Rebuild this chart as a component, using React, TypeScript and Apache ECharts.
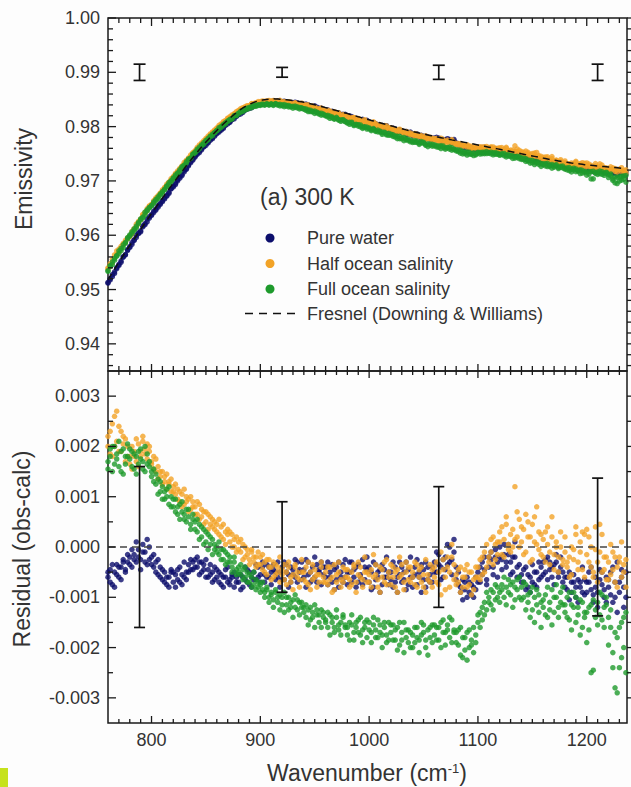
import React, { useEffect, useRef } from "react";
import * as echarts from "echarts";

// ---------------- data ----------------
const wavenumbers = [
  760, 762, 764, 766, 768, 770, 772, 774, 776, 778,
  780, 782, 784, 786, 788, 790, 792, 794, 796, 798,
  800, 802, 804, 806, 808, 810, 812, 814, 816, 818,
  820, 822, 824, 826, 828, 830, 832, 834, 836, 838,
  840, 842, 844, 846, 848, 850, 852, 854, 856, 858,
  860, 862, 864, 866, 868, 870, 872, 874, 876, 878,
  880, 882, 884, 886, 888, 890, 892, 894, 896, 898,
  900, 902, 904, 906, 908, 910, 912, 914, 916, 918,
  920, 922, 924, 926, 928, 930, 932, 934, 936, 938,
  940, 942, 944, 946, 948, 950, 952, 954, 956, 958,
  960, 962, 964, 966, 968, 970, 972, 974, 976, 978,
  980, 982, 984, 986, 988, 990, 992, 994, 996, 998,
  1000, 1002, 1004, 1006, 1008, 1010, 1012, 1014, 1016, 1018,
  1020, 1022, 1024, 1026, 1028, 1030, 1032, 1034, 1036, 1038,
  1040, 1042, 1044, 1046, 1048, 1050, 1052, 1054, 1056, 1058,
  1060, 1062, 1064, 1066, 1068, 1070, 1072, 1074, 1076, 1078,
  1080, 1082, 1084, 1086, 1088, 1090, 1092, 1094, 1096, 1098,
  1100, 1102, 1104, 1106, 1108, 1110, 1112, 1114, 1116, 1118,
  1120, 1122, 1124, 1126, 1128, 1130, 1132, 1134, 1136, 1138,
  1140, 1142, 1144, 1146, 1148, 1150, 1152, 1154, 1156, 1158,
  1160, 1162, 1164, 1166, 1168, 1170, 1172, 1174, 1176, 1178,
  1180, 1182, 1184, 1186, 1188, 1190, 1192, 1194, 1196, 1198,
  1200, 1202, 1204, 1206, 1208, 1210, 1212, 1214, 1216, 1218,
  1220, 1222, 1224, 1226, 1228, 1230, 1232, 1234, 1236,
];

// Fresnel (Downing & Williams) emissivity on the same grid
const fresnelEmissivity = [
  0.95180, 0.95246, 0.95311, 0.95376, 0.95440, 0.95503, 0.95566, 0.95628, 0.95690, 0.95751,
  0.95810, 0.95870, 0.95930, 0.95989, 0.96048, 0.96107, 0.96166, 0.96225, 0.96283, 0.96342,
  0.96400, 0.96457, 0.96514, 0.96571, 0.96627, 0.96683, 0.96739, 0.96795, 0.96850, 0.96905,
  0.96960, 0.97014, 0.97068, 0.97121, 0.97174, 0.97226, 0.97278, 0.97329, 0.97380, 0.97430,
  0.97480, 0.97529, 0.97577, 0.97624, 0.97670, 0.97715, 0.97760, 0.97804, 0.97847, 0.97889,
  0.97930, 0.97970, 0.98009, 0.98047, 0.98084, 0.98120, 0.98155, 0.98190, 0.98224, 0.98257,
  0.98290, 0.98318, 0.98344, 0.98368, 0.98390, 0.98410, 0.98429, 0.98446, 0.98460, 0.98471,
  0.98480, 0.98488, 0.98495, 0.98501, 0.98506, 0.98510, 0.98511, 0.98510, 0.98508, 0.98505,
  0.98500, 0.98497, 0.98493, 0.98489, 0.98484, 0.98479, 0.98474, 0.98468, 0.98462, 0.98456,
  0.98450, 0.98441, 0.98432, 0.98422, 0.98412, 0.98402, 0.98392, 0.98382, 0.98371, 0.98360,
  0.98350, 0.98339, 0.98328, 0.98317, 0.98306, 0.98295, 0.98284, 0.98273, 0.98262, 0.98251,
  0.98240, 0.98228, 0.98216, 0.98204, 0.98193, 0.98181, 0.98170, 0.98158, 0.98147, 0.98136,
  0.98125, 0.98114, 0.98103, 0.98092, 0.98081, 0.98070, 0.98059, 0.98048, 0.98037, 0.98026,
  0.98015, 0.98004, 0.97993, 0.97982, 0.97972, 0.97961, 0.97951, 0.97940, 0.97930, 0.97920,
  0.97910, 0.97901, 0.97892, 0.97883, 0.97874, 0.97865, 0.97856, 0.97847, 0.97838, 0.97829,
  0.97820, 0.97812, 0.97804, 0.97796, 0.97788, 0.97780, 0.97772, 0.97764, 0.97756, 0.97749,
  0.97742, 0.97734, 0.97726, 0.97718, 0.97710, 0.97702, 0.97694, 0.97686, 0.97678, 0.97670,
  0.97662, 0.97654, 0.97646, 0.97638, 0.97630, 0.97622, 0.97614, 0.97606, 0.97598, 0.97590,
  0.97582, 0.97574, 0.97566, 0.97558, 0.97550, 0.97542, 0.97534, 0.97526, 0.97518, 0.97509,
  0.97500, 0.97492, 0.97484, 0.97476, 0.97468, 0.97460, 0.97452, 0.97444, 0.97436, 0.97428,
  0.97420, 0.97412, 0.97404, 0.97396, 0.97389, 0.97382, 0.97375, 0.97368, 0.97361, 0.97354,
  0.97348, 0.97342, 0.97336, 0.97330, 0.97325, 0.97320, 0.97315, 0.97310, 0.97305, 0.97300,
  0.97295, 0.97291, 0.97287, 0.97283, 0.97279, 0.97275, 0.97271, 0.97267, 0.97264, 0.97261,
  0.97258, 0.97254, 0.97250, 0.97246, 0.97242, 0.97238, 0.97234, 0.97231, 0.97228,
];

// Residuals (obs - calc), in units of 1e-4; two scans per sample
const RESIDUAL_UNIT = 1e-4;
const pureWaterResidual = [
  -6, -4.5, -7.5, -5, -3.5, -6, -4, -2.5, -5, -3,
  -2, -4, -1.5, -3, -0.5, -2.5, 0.5, -1, -3.5, 0,
  -2, -4, -3, -5.5, -4, -6.5, -5, -7.5, -6, -4.5,
  -7, -5.5, -6.5, -4, -7.5, -6, -5, -3.5, -4.5, -3,
  -2.5, -4, -3, -5, -3.5, -6, -4.5, -5.5, -7, -4,
  -6, -5, -7.5, -6, -4.5, -7, -6.5, -5.5, -8, -6,
  -7, -5.5, -8, -6.5, -4.5, -7.5, -6, -5, -6.5, -4,
  -5.5, -4, -7, -3.5, -6, -5, -4.5, -6.5, -3, -5,
  -4, -6.5, -3.5, -5.5, -7, -4.5, -6, -3, -5, -6.5,
  -4.5, -2.5, -5.5, -7, -4, -6, -3.5, -5, -7.5, -4,
  -6, -3, -5, -7, -4.5, -6.5, -8, -5, -3.5, -6,
  -7.5, -5, -3, -6, -4, -7, -5.5, -2.5, -6.5, -4.5,
  -7, -5, -8, -3.5, -6, -4.5, -7.5, -6, -2, -5,
  -6.5, -8, -4, -6, -3, -7, -5, -8.5, -4.5, -2,
  -6, -4, -7.5, -5, -3.5, -6.5, -8, -4, -5.5, -7,
  -3, -5, -1.5, -4, -6, -2, -3.5, 0, -2.5, 1.5,
  -4, -7.5, -9, -6.5, -8.5, -10, -7, -9.5, -8, -6,
  -5, -7, -3, -4.5, -6.5, -2, -1, -4, -0.5, -3,
  0, -2.5, -1.5, -4, 0.5, -3, -5, -2, -6, -3.5,
  -5.5, -7, -4, -8, -6, -3.5, -7.5, -5, -6.5, -4,
  -3, -5, -2, -4.5, -6, -3.5, -1.5, -5, -4, -7,
  -6, -8.5, -5, -9, -7, -10, -6.5, -8, -4, -9.5,
  -7, -5, -8.5, -11, -6, -9, -4.5, -7.5, -10, -6,
  -8, -5, -11, -7, -3, -9, -6, -12, -5,
];
const pureWaterResidualScan2 = [
  -5, -7, -3.5, -8, -5.5, -4, -6.5, -3, -4.5, -1.5,
  -3.5, -0.5, -2.5, 1, -2, -4.5, -1, -3, 1.5, -2.5,
  -3.5, -1.5, -5, -2.5, -6, -4.5, -7, -6, -8, -5,
  -5, -8, -4.5, -7, -5.5, -3, -6.5, -5, -2.5, -4.5,
  -4, -2, -5.5, -3, -4.5, -2.5, -6, -3.5, -5, -6.5,
  -4.5, -7, -5.5, -8, -6, -4, -7.5, -6, -5, -7,
  -5.5, -8.5, -6, -4, -7, -5, -8, -6.5, -3.5, -6,
  -7, -3, -5.5, -6, -4, -7.5, -3.5, -5, -6, -8,
  -6.5, -3, -5, -8, -4, -5.5, -2.5, -7, -4.5, -3,
  -6, -8, -3, -5, -6.5, -2, -7, -4.5, -3, -5.5,
  -4, -7.5, -6, -3.5, -8.5, -4, -3, -6, -7, -2.5,
  -5, -3, -7, -4.5, -8, -3.5, -6, -7.5, -4, -2,
  -4, -8.5, -3, -6.5, -5, -9, -3.5, -4.5, -6, -7.5,
  -5, -3, -7, -9, -5.5, -4, -6.5, -3, -7.5, -6,
  -8, -5.5, -2.5, -6, -9, -4.5, -3, -6.5, -7, -4,
  -5, -1, -3.5, -6.5, -2.5, -4.5, 0.5, -3, -5.5, -1,
  -6.5, -5, -8, -10.5, -7, -6, -9, -7.5, -10, -8.5,
  -7, -4, -5.5, -2, -7.5, -4, -2.5, -5.5, -2, -6,
  -2, -4.5, 0.5, -3, -1.5, -5.5, -2, 1, -4, -6,
  -7, -4.5, -8.5, -5.5, -9, -7, -5, -8, -3, -6,
  -5.5, -2.5, -6.5, -3, -4, -7.5, -3, -6, -2, -5,
  -8, -6, -10.5, -7, -5.5, -8, -11, -7, -9, -6.5,
  -9, -7, -4, -9.5, -8, -12, -6.5, -5, -8.5, -11,
  -6.5, -9.5, -4, -10, -13, -7, -4.5, -8, -10,
];
const halfSalinityResidual = [
  20, 23, 18, 26, 21, 24, 19, 22, 17, 20,
  18, 15.5, 19, 17, 20.5, 18, 21, 19.5, 17.5, 20,
  16.5, 18, 15, 16, 14, 15, 13, 14.5, 12.5, 13.5,
  12, 10.5, 11.5, 9, 10.5, 8.5, 10, 9.5, 7.5, 9,
  8, 6.5, 8.5, 6, 7, 5, 6.5, 4.5, 5.5, 3.5,
  4.5, 2.5, 4, 1.5, 3, 3.5, 1, 2.5, 0, 2,
  1, -1, 0.5, -2, -0.5, -2.5, -1, -3, -2, -3.5,
  -2, -4.5, -3, -5.5, -2.5, -4, -6, -3.5, -5, -2,
  -4.5, -6.5, -5, -3, -7, -5.5, -4, -6, -8, -5,
  -6.5, -4, -7.5, -5, -3.5, -6, -8, -5.5, -4, -7,
  -5, -7.5, -4, -6, -8.5, -5.5, -3, -6.5, -7, -4.5,
  -6, -8, -5, -3.5, -7, -5.5, -4, -6.5, -2, -5,
  -7, -4.5, -1.5, -5.5, -8, -4, -6, -3, -7.5, -5,
  -3.5, -6, -8, -4.5, -2, -5.5, -7, -3, -6.5, -4,
  -5, -7.5, -3.5, -6, -4, -8, -2.5, -5.5, -7, -4.5,
  -6, -3, -7.5, -1, -4.5, -8.5, -2, -5, 0.5, -3.5,
  -5.5, -7, -4, -8, -6, -3.5, -7.5, -5, -8.5, -6,
  -4, -6.5, -2, -5, 0.5, -3, -1, 2, -2.5, 1,
  3, -1.5, 1.5, 4.5, -0.5, 2.5, 0, 12, 2, 5.5,
  1, 3.5, -1, 5, 2, -2.5, 6, 0.5, 3, -1.5,
  1.5, -3, 4, -1, 2, -4.5, 0, -2, 3, -3.5,
  -1, -4, -2, -5.5, -0.5, 2.5, -3, 1, -4.5, 2.5,
  -1.5, 2, -4, -6, -0.5, -3, 4.5, -5, -2, -6.5,
  -3, -5.5, -1, -7, -4, -2, -6, -3.5, -8,
];
const halfSalinityResidualScan2 = [
  22, 18.5, 24.5, 20, 27, 19, 23, 20.5, 21.5, 18,
  16.5, 20, 18, 21.5, 16, 19, 22, 18.5, 20.5, 19,
  17, 15.5, 17.5, 13.5, 15, 12.5, 14, 11.5, 13, 11,
  11, 12.5, 9.5, 11, 8, 11.5, 9, 7, 10, 8,
  6.5, 9, 5.5, 7.5, 4.5, 7, 3.5, 6, 4, 5,
  3, 5.5, 2, 4.5, 0.5, 2.5, 3, 0, 1.5, -1,
  -0.5, 1.5, -2.5, 0, -1.5, -3.5, -0.5, -2, -4, -1,
  -3.5, -1.5, -5, -2.5, -4, -6.5, -3, -5.5, -4, -7,
  -5.5, -3.5, -7.5, -4, -6, -8.5, -3.5, -5, -6.5, -2.5,
  -5, -7, -3, -8.5, -6.5, -4.5, -5.5, -7, -3, -6,
  -7, -4, -6.5, -9, -3.5, -7, -5, -8, -4, -6,
  -4.5, -6.5, -7.5, -4, -9, -3, -6, -8, -5, -7,
  -5.5, -8, -6, -3.5, -6.5, -9, -4.5, -7, -2.5, -6,
  -7.5, -4, -5, -9, -6, -3.5, -8.5, -5, -4, -7,
  -6, -3, -8, -4.5, -7, -5.5, -9, -6.5, -3.5, -8,
  -4, -7, -5, -9.5, -2.5, -6, -4, -8, -2, -6.5,
  -7.5, -4.5, -9, -6, -4.5, -8, -5, -9.5, -6.5, -4,
  -6, -2.5, -5.5, -1, -4, -2, 1.5, -3.5, 0.5, -1.5,
  1, 4, -2, 6, 0.5, -1, 3.5, 1.5, 7, 0,
  4, -1.5, 6.5, 2, -3, 4.5, 1, 8, -0.5, 2.5,
  -2, 3, 0.5, -3.5, 6, -1.5, 1, -5, 0, -2.5,
  2, -3, -6, 0, -2.5, 4, -4.5, -1, 3, -6,
  3.5, -3, 0, -5, 4, -7, -1, 2.5, -4.5, -2,
  -6.5, 0.5, -4.5, -2, -8, -3, 1, -5, -2.5,
];
const fullSalinityResidual = [
  17, 19.5, 15, 20, 18.5, 16, 19, 14.5, 18, 20.5,
  17.5, 19, 15.5, 18, 16.5, 19.5, 17, 15, 18.5, 16,
  14, 15.5, 12.5, 13.5, 11, 12, 9.5, 11.5, 8.5, 10,
  8, 9.5, 6.5, 8.5, 7, 5.5, 7.5, 6, 4.5, 6.5,
  5, 3, 4.5, 2, 3.5, 1, 2.5, 0.5, 1.5, -0.5,
  0, -1.5, -0.5, -2.5, -1, -3, -2, -4, -3, -4.5,
  -4, -5.5, -4.5, -6, -5, -7, -6, -7.5, -6.5, -8,
  -7.5, -8.5, -9, -8, -10, -9.5, -10.5, -9, -11, -9.5,
  -10, -9, -11.5, -10, -12, -10.5, -9.5, -12.5, -11, -12,
  -12, -14, -12.5, -14.5, -13, -11.5, -13.5, -15, -12.5, -14,
  -14.5, -16, -13.5, -15, -17, -14, -16.5, -15, -13.5, -16,
  -16, -18.5, -15.5, -17, -16, -14.5, -17.5, -16.5, -15, -18,
  -15, -17, -14, -16.5, -18, -15.5, -17.5, -16, -19, -15,
  -17, -15.5, -18.5, -16, -19.5, -17, -15, -18, -16.5, -20,
  -17.5, -19, -16, -18.5, -15, -17, -20, -16.5, -18, -15.5,
  -17.5, -16, -18.5, -15, -17, -19.5, -15.5, -18, -14.5, -16.5,
  -17, -19.5, -16, -22, -18, -17, -20, -18.5, -16, -19,
  -15, -13, -14.5, -11, -12.5, -10, -11.5, -9, -10.5, -8,
  -9, -7.5, -10, -8, -6.5, -9.5, -7, -10.5, -8.5, -6,
  -8, -10, -7.5, -11, -9, -12.5, -10, -8.5, -13, -11,
  -12, -9.5, -14, -11, -8.5, -13, -10, -12, -9, -11.5,
  -13, -10, -14.5, -11.5, -9, -15, -12, -10.5, -16, -13,
  -19, -12, -25, -10.5, -14, -11, -13.5, -9.5, -12, -10,
  -14, -16, -21, -28, -18, -24, -15, -20, -13,
];
const fullSalinityResidualScan2 = [
  15.5, 18, 20, 16.5, 17.5, 21, 15, 19.5, 16.5, 18,
  19.5, 16, 18.5, 14.5, 19, 17.5, 15.5, 20, 16.5, 17,
  15, 13, 14.5, 10.5, 13, 9.5, 11, 10, 12, 8,
  9.5, 7, 8, 5.5, 9, 6.5, 5, 7.5, 3.5, 5.5,
  3.5, 5.5, 1.5, 4, 0.5, 3, -0.5, 2, -1.5, 0.5,
  -1, 1, -2.5, -0.5, -3.5, -1.5, -3, -5, -2, -5.5,
  -5, -3.5, -6.5, -4, -7, -5.5, -8, -5, -8.5, -7,
  -9, -7, -10, -8.5, -11, -9, -12, -8.5, -10, -12.5,
  -11.5, -13, -10, -12.5, -11, -14, -12, -10.5, -13.5, -11,
  -13, -11.5, -15.5, -12, -14, -16, -12.5, -13.5, -16, -13,
  -15, -13, -17.5, -14, -16, -12.5, -15.5, -17.5, -14, -15.5,
  -17.5, -15, -13.5, -18.5, -15, -17, -14, -19, -16, -14.5,
  -16.5, -19, -15.5, -18, -14.5, -17, -20, -15, -17.5, -18.5,
  -15.5, -18.5, -16.5, -20.5, -15, -18.5, -21, -16.5, -19, -17,
  -20, -16, -18, -21, -17.5, -15.5, -18.5, -21.5, -16, -19,
  -15.5, -18.5, -16, -20, -14.5, -17, -16.5, -14, -19, -17,
  -19, -16.5, -21.5, -18, -20.5, -22.5, -16.5, -19.5, -21, -17.5,
  -13.5, -16, -12, -13.5, -9, -11, -8.5, -12.5, -7.5, -10,
  -11, -8.5, -6, -11.5, -9, -7.5, -12, -8, -6.5, -10,
  -10.5, -7, -12.5, -9.5, -14, -8, -15, -11.5, -9.5, -16,
  -10.5, -13.5, -8, -12.5, -15.5, -10, -7.5, -14, -11, -8,
  -11.5, -14, -9, -16.5, -12, -10, -13.5, -17.5, -11, -14,
  -13, -16.5, -11.5, -24.5, -12.5, -15.5, -9, -14.5, -16, -11.5,
  -19.5, -12.5, -24, -17, -29, -16, -22, -14, -25,
];

// Error bars
const errorBarWavenumbers = [789, 920, 1064, 1210];
const emissivityErrorCentre = 0.99;
const emissivityErrorHalf = [0.0015, 0.0009, 0.0013, 0.0015];
const residualErrorHalf = [0.0016, 0.0009, 0.0012, 0.00137];

// Axis ticks
const xMajorTicks = [800, 900, 1000, 1100, 1200];
const xMinorTicks = [
  770, 780, 790, 810, 820, 830, 840, 850, 860, 870, 880, 890,
  910, 920, 930, 940, 950, 960, 970, 980, 990,
  1010, 1020, 1030, 1040, 1050, 1060, 1070, 1080, 1090,
  1110, 1120, 1130, 1140, 1150, 1160, 1170, 1180, 1190,
  1210, 1220, 1230,
];
const emissivityMajorTicks = [0.94, 0.95, 0.96, 0.97, 0.98, 0.99, 1.0];
const emissivityMinorTicks = [
  0.936, 0.938, 0.942, 0.944, 0.946, 0.948, 0.952, 0.954, 0.956, 0.958,
  0.962, 0.964, 0.966, 0.968, 0.972, 0.974, 0.976, 0.978, 0.982, 0.984,
  0.986, 0.988, 0.992, 0.994, 0.996, 0.998,
];
const residualMajorTicks = [-0.003, -0.002, -0.001, 0, 0.001, 0.002, 0.003];
const residualMinorTicks = [-0.0025, -0.0015, -0.0005, 0.0005, 0.0015, 0.0025];

const seriesNames = ["Pure water", "Half ocean salinity", "Full ocean salinity"];
const fresnelName = "Fresnel (Downing & Williams)";

// ---------------- styles ----------------
const FONT = '"Liberation Sans", Arial, Helvetica, sans-serif';
const INK = "#333333";
const AXIS = "#1a1a1a";
const BLUE = "#0c0e6c";
const ORANGE = "#f2a327";
const GREEN = "#1e9a2c";
const DOT = 5.5;

const W = 631;
const H = 787;
const GRID_LEFT = 108;
const GRID_RIGHT_EDGE = 627;
const TOP_T = 18;
const MID = 371;
const BOT_B = 723;

function pairs(ys: number[], scale = 1, base?: number[]) {
  return wavenumbers.map((w, i) => [w, (base ? base[i] : 0) + ys[i] * scale]);
}

type TickSpec = {
  topMajor: number; topMinor: number;
  botMajor: number; botMinor: number;
  leftMajor: number; leftMinor: number;
  rightMajor: number; rightMinor: number;
};

function makeTickRenderer(yMajor: number[], yMinor: number[], spec: TickSpec) {
  return (params: any, api: any) => {
    const cs = params.coordSys;
    const L = cs.x, R = cs.x + cs.width, T = cs.y, B = cs.y + cs.height;
    const xRef = api.value(0);
    const yRef = api.value(1);
    const kids: any[] = [];
    const add = (x1: number, y1: number, x2: number, y2: number) =>
      kids.push({ type: "line", shape: { x1, y1, x2, y2 }, style: { stroke: AXIS, lineWidth: 1.3 } });
    const xt = (vals: number[], top: number, bot: number) =>
      vals.forEach((v) => {
        const px = api.coord([v, yRef])[0];
        if (top) add(px, T, px, T + top);
        if (bot) add(px, B, px, B - bot);
      });
    const yt = (vals: number[], left: number, right: number) =>
      vals.forEach((v) => {
        const py = api.coord([xRef, v])[1];
        if (left) add(L, py, L + left, py);
        if (right) add(R, py, R + right, py);
      });
    xt(xMajorTicks, spec.topMajor, spec.botMajor);
    xt(xMinorTicks, spec.topMinor, spec.botMinor);
    yt(yMajor, spec.leftMajor, spec.rightMajor);
    yt(yMinor, spec.leftMinor, spec.rightMinor);
    return { type: "group", children: kids };
  };
}

function makeErrorRenderer(capHalf: number) {
  return (params: any, api: any) => {
    const x = api.value(0);
    const c = api.value(1);
    const h = api.value(2);
    const p1 = api.coord([x, c + h]);
    const p2 = api.coord([x, c - h]);
    const st = { stroke: "#111", lineWidth: 1.7 };
    return {
      type: "group",
      children: [
        { type: "line", shape: { x1: p1[0], y1: p1[1], x2: p2[0], y2: p2[1] }, style: st },
        { type: "line", shape: { x1: p1[0] - capHalf, y1: p1[1], x2: p1[0] + capHalf, y2: p1[1] }, style: st },
        { type: "line", shape: { x1: p2[0] - capHalf, y1: p2[1], x2: p2[0] + capHalf, y2: p2[1] }, style: st },
      ],
    };
  };
}

function txt(text: string, x: number, y: number, size: number, align = "left", extra: any = {}) {
  return {
    type: "text",
    x,
    y,
    silent: true,
    ...extra,
    style: {
      text,
      fontSize: size,
      fontFamily: FONT,
      fill: INK,
      align,
      verticalAlign: "middle",
      textAlign: align,
      textVerticalAlign: "middle",
      ...(extra.style || {}),
    },
  };
}

export default function App() {
  const ref = useRef<HTMLDivElement>(null);

  useEffect(() => {
    if (!ref.current) return;
    const chart = echarts.init(ref.current, undefined, { renderer: "svg" });

    const topPts = (a: number[], b: number[]) => [
      ...pairs(a, RESIDUAL_UNIT, fresnelEmissivity),
      ...pairs(b, RESIDUAL_UNIT, fresnelEmissivity),
    ];
    const botPts = (a: number[], b: number[]) => [...pairs(a, RESIDUAL_UNIT), ...pairs(b, RESIDUAL_UNIT)];

    const labelStyle = { fontSize: 18, fontFamily: FONT, color: INK };

    const option: any = {
      animation: false,
      backgroundColor: "#fdfdfd",
      grid: [
        {
          left: GRID_LEFT, top: TOP_T, width: GRID_RIGHT_EDGE - GRID_LEFT, height: MID - TOP_T,
          show: true, borderColor: AXIS, borderWidth: 1.5, backgroundColor: "transparent",
        },
        {
          left: GRID_LEFT, top: MID, width: GRID_RIGHT_EDGE - GRID_LEFT, height: BOT_B - MID,
          show: true, borderColor: AXIS, borderWidth: 1.5, backgroundColor: "transparent",
        },
      ],
      xAxis: [
        {
          type: "value", gridIndex: 0, min: 760, max: 1237, interval: 10,
          axisLine: { show: false }, axisTick: { show: false }, splitLine: { show: false },
          axisLabel: { show: false },
        },
        {
          type: "value", gridIndex: 1, min: 760, max: 1237, interval: 10,
          axisLine: { show: false }, axisTick: { show: false }, splitLine: { show: false },
          axisLabel: {
            ...labelStyle, margin: 8, interval: 0, showMinLabel: true, showMaxLabel: true,
            formatter: (v: number) => (Math.abs(v % 100) < 1e-6 ? String(Math.round(v)) : ""),
          },
        },
      ],
      yAxis: [
        {
          type: "value", gridIndex: 0, min: 0.935, max: 1.0, interval: 0.005,
          axisLine: { show: false }, axisTick: { show: false }, splitLine: { show: false },
          axisLabel: {
            ...labelStyle, margin: 8,
            formatter: (v: number) => {
              const k = v * 100;
              return Math.abs(k - Math.round(k)) < 1e-6 ? (Math.round(k) / 100).toFixed(2) : "";
            },
          },
        },
        {
          type: "value", gridIndex: 1, min: -0.0035, max: 0.0035, interval: 0.0005,
          axisLine: { show: false }, axisTick: { show: false }, splitLine: { show: false },
          axisLabel: {
            ...labelStyle, margin: 8,
            formatter: (v: number) => {
              const k = v * 1000;
              if (Math.abs(k - Math.round(k)) > 1e-6) return "";
              const r = Math.round(k);
              return r === 0 ? "0.000" : (r / 1000).toFixed(3);
            },
          },
        },
      ],
      series: [
        // ---- top panel (drawn: pure water, half, full) ----
        { name: seriesNames[0], type: "scatter", xAxisIndex: 0, yAxisIndex: 0, symbolSize: DOT,
          itemStyle: { color: BLUE }, data: topPts(pureWaterResidual, pureWaterResidualScan2), silent: true },
        { name: seriesNames[1], type: "scatter", xAxisIndex: 0, yAxisIndex: 0, symbolSize: DOT,
          itemStyle: { color: ORANGE }, data: topPts(halfSalinityResidual, halfSalinityResidualScan2), silent: true },
        { name: seriesNames[2], type: "scatter", xAxisIndex: 0, yAxisIndex: 0, symbolSize: DOT,
          itemStyle: { color: GREEN }, data: topPts(fullSalinityResidual, fullSalinityResidualScan2), silent: true },
        { name: fresnelName, type: "line", xAxisIndex: 0, yAxisIndex: 0, showSymbol: false, silent: true,
          lineStyle: { color: "#111", width: 1.5, type: [7, 5] },
          data: wavenumbers.map((w, i) => [w, fresnelEmissivity[i]]), z: 5 },
        { type: "custom", xAxisIndex: 0, yAxisIndex: 0, silent: true, z: 6,
          renderItem: makeErrorRenderer(6),
          data: errorBarWavenumbers.map((w, i) => [w, emissivityErrorCentre, emissivityErrorHalf[i]]) },
        { type: "custom", xAxisIndex: 0, yAxisIndex: 0, silent: true, z: 7,
          renderItem: makeTickRenderer(emissivityMajorTicks, emissivityMinorTicks, {
            topMajor: 8, topMinor: 5, botMajor: 7, botMinor: 5,
            leftMajor: 8, leftMinor: 5, rightMajor: 6, rightMinor: 6,
          }),
          data: [[800, 0.96]] },
        // ---- bottom panel ----
        { name: seriesNames[0], type: "scatter", xAxisIndex: 1, yAxisIndex: 1, symbolSize: DOT,
          itemStyle: { color: BLUE }, data: botPts(pureWaterResidual, pureWaterResidualScan2), silent: true,
          markLine: {
            silent: true, symbol: "none", label: { show: false },
            lineStyle: { color: "#444", width: 1.5, type: [7, 5] },
            data: [{ yAxis: 0 }],
          } },
        { name: seriesNames[1], type: "scatter", xAxisIndex: 1, yAxisIndex: 1, symbolSize: DOT,
          itemStyle: { color: ORANGE }, data: botPts(halfSalinityResidual, halfSalinityResidualScan2), silent: true },
        { name: seriesNames[2], type: "scatter", xAxisIndex: 1, yAxisIndex: 1, symbolSize: DOT,
          itemStyle: { color: GREEN }, data: botPts(fullSalinityResidual, fullSalinityResidualScan2), silent: true },
        { type: "custom", xAxisIndex: 1, yAxisIndex: 1, silent: true, z: 6,
          renderItem: makeErrorRenderer(5.5),
          data: errorBarWavenumbers.map((w, i) => [w, 0, residualErrorHalf[i]]) },
        { type: "custom", xAxisIndex: 1, yAxisIndex: 1, silent: true, z: 7,
          renderItem: makeTickRenderer(residualMajorTicks, residualMinorTicks, {
            topMajor: 7, topMinor: 4, botMajor: 7, botMinor: 4,
            leftMajor: 8, leftMinor: 5, rightMajor: 6, rightMinor: 6,
          }),
          data: [[800, 0]] },
      ],
      graphic: [
        txt("Emissivity", 24, 179, 23, "center", { rotation: Math.PI / 2 }),
        txt("Residual (obs-calc)", 22, 549, 23, "center", { rotation: Math.PI / 2 }),
        {
          type: "text", x: 367, y: 773, silent: true,
          style: {
            text: "Wavenumber (cm{sup|-1})",
            fontSize: 23, fontFamily: FONT, fill: INK,
            align: "center", verticalAlign: "middle", textAlign: "center", textVerticalAlign: "middle",
            rich: {
              sup: { fontSize: 13, fontFamily: FONT, fill: INK, verticalAlign: "top", lineHeight: 23 },
            },
          },
        },
        txt("(a) 300 K", 260, 197, 23, "left"),
        { type: "circle", shape: { cx: 270, cy: 238, r: 4.5 }, style: { fill: BLUE }, silent: true },
        { type: "circle", shape: { cx: 270, cy: 263.5, r: 4.5 }, style: { fill: ORANGE }, silent: true },
        { type: "circle", shape: { cx: 270, cy: 289, r: 4.5 }, style: { fill: GREEN }, silent: true },
        {
          type: "line", silent: true,
          shape: { x1: 245, y1: 313.5, x2: 297, y2: 313.5 },
          style: { stroke: "#111", lineWidth: 1.5, lineDash: [8, 6] },
        },
        txt(seriesNames[0], 307, 238, 18),
        txt(seriesNames[1], 307, 263.5, 18),
        txt(seriesNames[2], 307, 289, 18),
        txt(fresnelName, 307, 313.5, 18),
        { type: "rect", silent: true, shape: { x: 0, y: 768, width: 8, height: 19 }, style: { fill: "#c6e21c" } },
      ],
    };

    chart.setOption(option);
    return () => chart.dispose();
  }, []);

  return (
    <div
      ref={ref}
      style={{ position: "fixed", left: 0, top: 0, width: W, height: H, background: "#fdfdfd" }}
    />
  );
}
